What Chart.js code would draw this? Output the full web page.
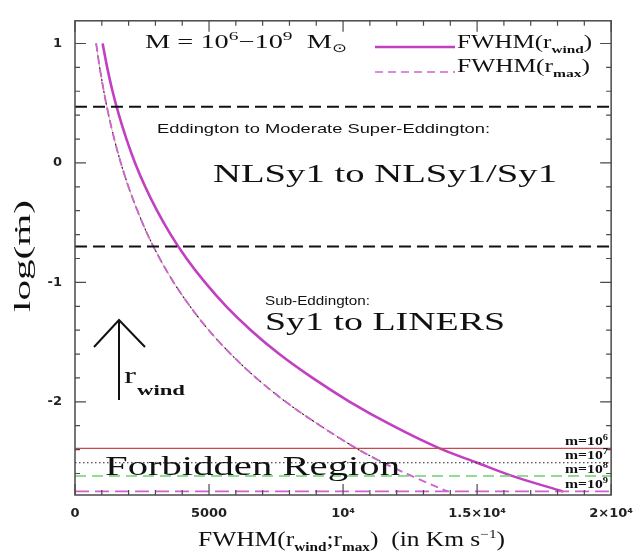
<!DOCTYPE html>
<html>
<head>
<meta charset="utf-8">
<script src="https://cdn.jsdelivr.net/npm/chart.js@4/dist/chart.umd.min.js"></script>
<style>
  html, body { margin: 0; padding: 0; background: #fff; }
  #wrap { width: 644px; height: 555px; }
</style>
</head>
<body>
<div id="wrap"><canvas id="c" width="644" height="555"></canvas></div>
<script>
// Accretion rate (log m-dot) sampled along the curves
const logMdot = [1, 0.8, 0.6, 0.4, 0.2, 0, -0.2, -0.4, -0.6, -0.8, -1, -1.2, -1.4, -1.6, -1.8, -2, -2.2, -2.39, -2.51, -2.62, -2.75];
// FWHM at the wind radius (km/s)
const fwhmWind = [1030, 1200, 1400, 1640, 1920, 2240, 2620, 3060, 3570, 4160, 4850, 5640, 6560, 7620, 8860, 10250, 11850, 13600, 15000, 16300, 18200];
// FWHM at the maximum radius (km/s)
const fwhmMax = [790, 920, 1075, 1255, 1465, 1710, 1995, 2330, 2710, 3160, 3680, 4290, 4990, 5810, 6760, 7860, 9150, 10500, 11500, 12550, 13900];

// Regime boundaries (log m-dot)
const regimeBounds = [0.47, -0.7];
// Minimum accretion rate for each black-hole mass
const massExponents = ['6', '7', '8', '9'];
const mdotFloor = [-2.39, -2.51, -2.62, -2.75];

// Axis ticks
const xTicks = [0, 5000, 10000, 15000, 20000];
const xTickLabels = ['0', '5000', '10\u2074', '1.5\u00d710\u2074', '2\u00d710\u2074'];
const yTicks = [-2, -1, 0, 1];
const yTickLabels = ['-2', '-1', '0', '1'];

const X_MIN = 0, X_MAX = 20000, Y_MIN = -2.78, Y_MAX = 1.19;

const floorStyles = [
  { color: '#c84a4a', dash: [], width: 1.3 },
  { color: '#222222', dash: [1.5, 2.5], width: 1.2 },
  { color: '#6fd06f', dash: [11, 6], width: 1.5 },
  { color: '#d060d0', dash: [14, 6], width: 1.6 }
];

function curve(xs, floor) {
  const pts = [];
  logMdot.forEach((y, i) => { if (y >= floor - 1e-9) pts.push({ x: xs[i], y: y }); });
  return pts;
}
function hline(y) { return [{ x: X_MIN, y: y }, { x: X_MAX, y: y }]; }

const datasets = [];
// regime boundaries
regimeBounds.forEach(b => datasets.push({
  data: hline(b), borderColor: '#111', borderWidth: 2, borderDash: [12, 6]
}));
// mass floors
mdotFloor.forEach((f, i) => datasets.push({
  data: hline(f), borderColor: floorStyles[i].color, borderWidth: floorStyles[i].width, borderDash: floorStyles[i].dash
}));
// FWHM(r_wind): solid
datasets.push({ data: curve(fwhmWind, mdotFloor[3]), borderColor: '#c23fc2', borderWidth: 2.6, borderDash: [] });
datasets.push({ data: curve(fwhmWind, mdotFloor[0]), borderColor: 'rgba(60,30,60,0.45)', borderWidth: 0.9, borderDash: [2, 4] });
// FWHM(r_max): dashed, with the lower-mass curves lying on top of it
datasets.push({ data: curve(fwhmMax, mdotFloor[3]), borderColor: '#d064d0', borderWidth: 1.9, borderDash: [8, 5] });
datasets.push({ data: curve(fwhmMax, mdotFloor[2]), borderColor: '#4fb04f', borderWidth: 1.3, borderDash: [6, 7] });
datasets.push({ data: curve(fwhmMax, mdotFloor[1]), borderColor: '#202020', borderWidth: 1.1, borderDash: [2, 4] });
datasets.push({ data: curve(fwhmMax, mdotFloor[0]), borderColor: 'rgba(200,70,70,0.5)', borderWidth: 0.8, borderDash: [] });

datasets.forEach(d => {
  d.showLine = true; d.pointRadius = 0; d.pointHoverRadius = 0; d.fill = false;
  d.cubicInterpolationMode = 'monotone';
});

const SERIF = '"Liberation Serif", "DejaVu Serif", serif';
const SANS = '"Liberation Sans", Arial, sans-serif';

function drawRich(ctx, segs, x, y, targetW) {
  let total = 0;
  segs.forEach(s => { ctx.font = s.font; s.w = ctx.measureText(s.t).width; total += s.w; });
  const k = targetW / total;
  ctx.save();
  ctx.translate(x, y);
  ctx.scale(k, 1);
  ctx.textAlign = 'left';
  ctx.textBaseline = 'alphabetic';
  let cx = 0;
  segs.forEach(s => { ctx.font = s.font; ctx.fillText(s.t, cx, s.dy || 0); cx += s.w; });
  ctx.restore();
}

const decor = {
  id: 'decor',
  afterDraw(chart) {
    const ctx = chart.ctx;
    const a = chart.chartArea;
    const xs = chart.scales.x, ys = chart.scales.y;
    ctx.save();
    // frame
    ctx.strokeStyle = '#4a4a4a';
    ctx.lineWidth = 1.5;
    ctx.setLineDash([]);
    ctx.strokeRect(a.left, a.top, a.right - a.left, a.bottom - a.top);
    // inward tick marks on all four sides
    ctx.lineWidth = 1.2;
    ctx.beginPath();
    for (let v = 0; v <= X_MAX + 1; v += 1000) {
      const px = xs.getPixelForValue(v);
      const len = (v % 5000 === 0) ? 11 : 5;
      ctx.moveTo(px, a.bottom); ctx.lineTo(px, a.bottom - len);
      ctx.moveTo(px, a.top); ctx.lineTo(px, a.top + len);
    }
    for (let i = -14; i <= 6; i++) {
      const v = i * 0.2;
      if (v < Y_MIN || v > Y_MAX) continue;
      const py = ys.getPixelForValue(v);
      const len = (i % 5 === 0) ? 11 : 5;
      ctx.moveTo(a.left, py); ctx.lineTo(a.left + len, py);
      ctx.moveTo(a.right, py); ctx.lineTo(a.right - len, py);
    }
    ctx.stroke();

    ctx.fillStyle = '#111';
    // mass range
    drawRich(ctx, [
      { t: 'M = 10', font: `19px ${SERIF}` },
      { t: '6', font: `13px ${SERIF}`, dy: -8 },
      { t: '\u221210', font: `19px ${SERIF}` },
      { t: '9', font: `13px ${SERIF}`, dy: -8 },
      { t: '  M', font: `19px ${SERIF}` },
      { t: '\u2299', font: `12px "DejaVu Sans", sans-serif`, dy: 4 }
    ], 145, 48, 202);

    // legend
    ctx.lineWidth = 2.6; ctx.strokeStyle = '#c23fc2'; ctx.setLineDash([]);
    ctx.beginPath(); ctx.moveTo(375, 47); ctx.lineTo(455, 47); ctx.stroke();
    ctx.lineWidth = 1.6; ctx.strokeStyle = '#d064d0'; ctx.setLineDash([8, 5]);
    ctx.beginPath(); ctx.moveTo(375, 72); ctx.lineTo(455, 72); ctx.stroke();
    ctx.setLineDash([]);
    drawRich(ctx, [
      { t: 'FWHM(r', font: `18px ${SERIF}` },
      { t: 'wind', font: `bold 11px ${SERIF}`, dy: 5 },
      { t: ')', font: `18px ${SERIF}` }
    ], 457, 48, 135);
    drawRich(ctx, [
      { t: 'FWHM(r', font: `18px ${SERIF}` },
      { t: 'max', font: `bold 11px ${SERIF}`, dy: 5 },
      { t: ')', font: `18px ${SERIF}` }
    ], 457, 72, 133);

    // regime annotations
    drawRich(ctx, [{ t: 'Eddington to Moderate Super-Eddington:', font: `13px ${SANS}` }], 157, 133, 333);
    drawRich(ctx, [{ t: 'NLSy1 to NLSy1/Sy1', font: `26px ${SERIF}` }], 213, 182, 344);
    drawRich(ctx, [{ t: 'Sub-Eddington:', font: `13px ${SANS}` }], 265, 305, 105);
    drawRich(ctx, [{ t: 'Sy1 to LINERS', font: `26px ${SERIF}` }], 265, 330, 240);
    drawRich(ctx, [{ t: 'Forbidden Region', font: `27px ${SERIF}` }], 105, 475, 295);

    // mass labels at the floors
    const lab = [445, 459, 473, 488];
    massExponents.forEach((e, i) => {
      drawRich(ctx, [
        { t: 'm=10', font: `bold 12px ${SERIF}` },
        { t: e, font: `bold 8px ${SERIF}`, dy: -5 }
      ], 565, lab[i], 43);
    });

    // arrow marking r_wind
    ctx.strokeStyle = '#111'; ctx.lineWidth = 2;
    ctx.beginPath();
    ctx.moveTo(119, 400); ctx.lineTo(119, 321);
    ctx.moveTo(94, 347); ctx.lineTo(119, 320); ctx.lineTo(145, 347);
    ctx.stroke();
    drawRich(ctx, [{ t: 'r', font: `24px ${SERIF}` }], 124, 383, 12);
    drawRich(ctx, [{ t: 'wind', font: `bold 15px ${SERIF}` }], 137, 395, 48);

    // axis titles
    drawRich(ctx, [
      { t: 'FWHM(r', font: `20px ${SERIF}` },
      { t: 'wind', font: `bold 12px ${SERIF}`, dy: 5 },
      { t: ';r', font: `20px ${SERIF}` },
      { t: 'max', font: `bold 12px ${SERIF}`, dy: 5 },
      { t: ')  (in Km s', font: `20px ${SERIF}` },
      { t: '\u22121', font: `12px ${SERIF}`, dy: -8 },
      { t: ')', font: `20px ${SERIF}` }
    ], 198, 546, 307);
    ctx.save();
    ctx.translate(30, 312);
    ctx.rotate(-Math.PI / 2);
    drawRich(ctx, [{ t: 'log(\u1e41)', font: `23px ${SERIF}` }], 0, 0, 112);
    ctx.restore();
    ctx.restore();
  }
};

new Chart(document.getElementById('c'), {
  type: 'scatter',
  data: { datasets: datasets },
  plugins: [decor],
  options: {
    responsive: false,
    animation: false,
    devicePixelRatio: 1,
    layout: { padding: { top: 12, right: 27, left: 0, bottom: 0 } },
    plugins: { legend: { display: false }, tooltip: { enabled: false } },
    scales: {
      x: {
        type: 'linear', min: X_MIN, max: X_MAX,
        grid: { display: false, drawTicks: false },
        border: { display: false },
        afterBuildTicks: s => { s.ticks = xTicks.map(v => ({ value: v })); },
        afterFit: s => { s.height = 60; },
        ticks: {
          padding: 11, color: '#222', maxRotation: 0, autoSkip: false,
          font: { family: '"DejaVu Sans", sans-serif', size: 13, weight: 'bold' },
          callback: v => xTickLabels[xTicks.indexOf(v)]
        }
      },
      y: {
        type: 'linear', min: Y_MIN, max: Y_MAX,
        grid: { display: false, drawTicks: false },
        border: { display: false },
        afterBuildTicks: s => { s.ticks = yTicks.map(v => ({ value: v })); },
        afterFit: s => { s.width = 75; },
        ticks: {
          padding: 13, color: '#222', autoSkip: false,
          font: { family: '"DejaVu Sans", sans-serif', size: 13, weight: 'bold' },
          callback: v => yTickLabels[yTicks.indexOf(v)]
        }
      }
    }
  }
});
</script>
</body>
</html>
